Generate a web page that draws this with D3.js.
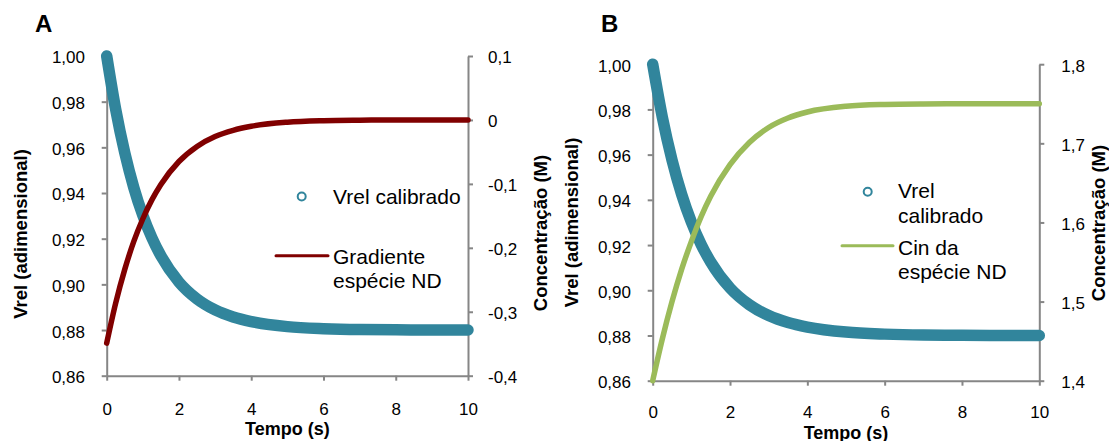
<!DOCTYPE html>
<html>
<head>
<meta charset="utf-8">
<script src="https://cdn.jsdelivr.net/npm/d3@7"></script>
<style>
  body { margin: 0; background: #fff; }
  svg { display: block; }
  text { font-family: "Liberation Sans", Arial, sans-serif; fill: #000; }
</style>
</head>
<body>
<svg id="chart" width="1109" height="441"></svg>
<script>
// Time samples (s)
const tempo = [0, 0.25, 0.5, 0.75, 1, 1.25, 1.5, 2, 2.5, 3, 3.5, 4, 5, 6, 7, 8, 9, 10];

// Calibrated relative potential (dimensionless) – shared by both panels
const vrelCalibrado = [1.000, 0.9765, 0.9576, 0.9424, 0.9302, 0.9204, 0.9125, 0.9010, 0.8936, 0.8888,
                       0.8857, 0.8837, 0.8815, 0.8806, 0.8802, 0.8801, 0.8800, 0.8800];

// Panel A: concentration gradient of the ND species (M)
const gradienteND = [-0.349, -0.286, -0.2337, -0.190, -0.1545, -0.125, -0.1009, -0.0650, -0.0414, -0.0260,
                     -0.0162, -0.0099, -0.0036, -0.0012, -0.0004, -0.0001, 0.000, 0.000];

// Panel B: inlet concentration of the ND species (M)
const cinND = [1.400, 1.453, 1.500, 1.541, 1.576, 1.607, 1.633, 1.673, 1.701, 1.720,
               1.732, 1.7396, 1.7468, 1.7491, 1.7498, 1.7500, 1.7500, 1.7500];

// Ticks and their labels
const xTicks = [0, 2, 4, 6, 8, 10];
const xTickLabels = ["0", "2", "4", "6", "8", "10"];
const vrelTicks = [0.86, 0.88, 0.90, 0.92, 0.94, 0.96, 0.98, 1.00];
const vrelTickLabels = ["0,86", "0,88", "0,90", "0,92", "0,94", "0,96", "0,98", "1,00"];
const gradTicks = [-0.4, -0.3, -0.2, -0.1, 0, 0.1];
const gradTickLabels = ["-0,4", "-0,3", "-0,2", "-0,1", "0", "0,1"];
const cinTicks = [1.4, 1.5, 1.6, 1.7, 1.8];
const cinTickLabels = ["1,4", "1,5", "1,6", "1,7", "1,8"];

const COL_VREL = "#31859c";
const COL_GRAD = "#800000";
const COL_CIN = "#9bbb59";
const COL_AXIS = "#868686";

const svg = d3.select("#chart");

function drawPanel(cfg) {
  const g = svg.append("g");

  const x = d3.scaleLinear().domain([0, 10]).range([cfg.x0, cfg.x1]);
  const yL = d3.scaleLinear().domain([0.86, 1.00]).range([cfg.yBot, cfg.yTop]);
  const yR = d3.scaleLinear().domain(cfg.rDomain).range([cfg.yBot, cfg.yTop]);

  const fmt = (ticks, labels) => v => labels[ticks.findIndex(t => Math.abs(t - v) < 1e-9)];

  const axB = g.append("g").attr("transform", `translate(0,${cfg.yBot})`)
    .call(d3.axisBottom(x).tickValues(xTicks).tickFormat(fmt(xTicks, xTickLabels))
      .tickSize(5).tickSizeOuter(0).tickPadding(cfg.xPad));
  const axL = g.append("g").attr("transform", `translate(${cfg.x0},0)`)
    .call(d3.axisLeft(yL).tickValues(vrelTicks).tickFormat(fmt(vrelTicks, vrelTickLabels))
      .tickSize(5).tickSizeOuter(0).tickPadding(cfg.lPad));
  const axR = g.append("g").attr("transform", `translate(${cfg.x1},0)`)
    .call(d3.axisRight(yR).tickValues(cfg.rTicks).tickFormat(fmt(cfg.rTicks, cfg.rLabels))
      .tickSize(5).tickSizeOuter(0).tickPadding(cfg.rPad));

  [axB, axL, axR].forEach(ax => {
    ax.select(".domain").attr("stroke", COL_AXIS).attr("stroke-width", 2);
    ax.selectAll(".tick line").attr("stroke", COL_AXIS).attr("stroke-width", 2);
    ax.selectAll(".tick text").attr("font-size", 17).attr("fill", "#000")
      .style("font-family", '"Liberation Sans", Arial, sans-serif');
  });
  axL.selectAll(".tick text").attr("dy", "0.41em");
  axR.selectAll(".tick text").attr("dy", "0.41em");

  // Axis titles
  g.append("text").attr("x", (cfg.x0 + cfg.x1) / 2).attr("y", cfg.xTitleY)
    .attr("text-anchor", "middle").attr("font-size", 18).attr("font-weight", "bold")
    .text("Tempo (s)");
  g.append("text").attr("transform", `translate(${cfg.lTitleX},${cfg.lTitleY}) rotate(-90)`)
    .attr("text-anchor", "middle").attr("font-size", 18.5).attr("font-weight", "bold")
    .text("Vrel (adimensional)");
  g.append("text").attr("transform", `translate(${cfg.rTitleX},${cfg.rTitleY}) rotate(-90)`)
    .attr("text-anchor", "middle").attr("font-size", 18.5).attr("font-weight", "bold")
    .text("Concentração (M)");

  // Panel letter
  g.append("text").attr("x", cfg.letterX).attr("y", cfg.letterY)
    .attr("font-size", 24).attr("font-weight", "bold").text(cfg.letter);

  // Vrel: dense circular markers, drawn as a thick rounded band
  const lineL = d3.line().x((d, i) => x(tempo[i])).y(d => yL(d)).curve(d3.curveMonotoneX);
  g.append("path").datum(vrelCalibrado).attr("d", lineL)
    .attr("fill", "none").attr("stroke", COL_VREL).attr("stroke-width", 11.5)
    .attr("stroke-linecap", "round").attr("stroke-linejoin", "round");

  // Concentration series on the secondary axis
  const lineR = d3.line().x((d, i) => x(tempo[i])).y(d => yR(d)).curve(d3.curveMonotoneX);
  g.append("path").datum(cfg.rSeries).attr("d", lineR)
    .attr("fill", "none").attr("stroke", cfg.rColor).attr("stroke-width", 5.5)
    .attr("stroke-linecap", "round").attr("stroke-linejoin", "round");

  // Legend
  const lg = g.append("g");
  lg.append("circle").attr("cx", cfg.leg.cx).attr("cy", cfg.leg.cy).attr("r", 4)
    .attr("fill", "#fff").attr("stroke", COL_VREL).attr("stroke-width", 2);
  lg.append("line").attr("x1", cfg.leg.lx1).attr("x2", cfg.leg.lx2)
    .attr("y1", cfg.leg.ly).attr("y2", cfg.leg.ly)
    .attr("stroke", cfg.rColor).attr("stroke-width", 3).attr("stroke-linecap", "round");
  cfg.leg.texts.forEach(t => {
    lg.append("text").attr("x", cfg.leg.tx).attr("y", t.y).attr("font-size", 21).text(t.s);
  });
}

drawPanel({
  letter: "A", letterX: 35, letterY: 32,
  x0: 106.7, x1: 468, yTop: 56, yBot: 375.7,
  rDomain: [-0.4, 0.1], rTicks: gradTicks, rLabels: gradTickLabels,
  rSeries: gradienteND, rColor: COL_GRAD,
  xPad: 22, lPad: 16.7, rPad: 15,
  xTitleY: 435, lTitleX: 27, lTitleY: 234, rTitleX: 547, rTitleY: 233,
  leg: {
    cx: 301.7, cy: 196.5, lx1: 276, lx2: 328, ly: 255.7, tx: 333,
    texts: [{ y: 203.5, s: "Vrel calibrado" }, { y: 264.3, s: "Gradiente" }, { y: 287.5, s: "espécie ND" }]
  }
});

drawPanel({
  letter: "B", letterX: 601, letterY: 32,
  x0: 652.7, x1: 1039.3, yTop: 64.2, yBot: 380.7,
  rDomain: [1.4, 1.8], rTicks: cinTicks, rLabels: cinTickLabels,
  rSeries: cinND, rColor: COL_CIN,
  xPad: 20.5, lPad: 16.7, rPad: 17,
  xTitleY: 438.5, lTitleX: 578, lTitleY: 222.5, rTitleX: 1105, rTitleY: 223,
  leg: {
    cx: 867.7, cy: 191.7, lx1: 842, lx2: 893, ly: 245.7, tx: 898,
    texts: [{ y: 198.3, s: "Vrel" }, { y: 223.3, s: "calibrado" }, { y: 255, s: "Cin da" }, { y: 279, s: "espécie ND" }]
  }
});
</script>
</body>
</html>
